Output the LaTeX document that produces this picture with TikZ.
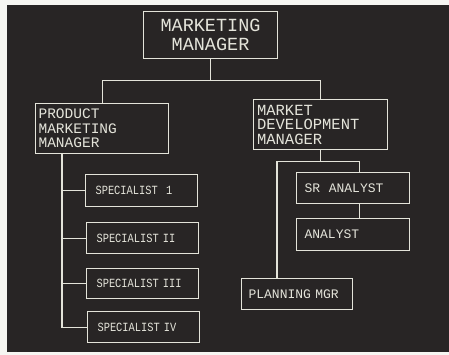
\documentclass[tikz,border=0pt]{standalone}
\usepackage{fontspec}
\newfontfamily\plotter{Liberation Mono}
\newfontfamily\plotnarrow[FakeStretch=0.83]{Liberation Mono}
\usetikzlibrary{positioning}
\definecolor{boardgrey}{RGB}{40,37,37}
\definecolor{chalk}{RGB}{228,228,218}
\definecolor{paper}{RGB}{246,246,242}

\tikzset{
  box/.style={draw=chalk, line width=1.1pt, text=chalk, anchor=north west, inner ysep=0pt},
  lbox/.style={box, align=left},
  link/.style={draw=chalk, line width=1.1pt},
}

\begin{document}
\begin{tikzpicture}[x=1pt, y=-1pt]
    \useasboundingbox (0,0) rectangle (449,355);
    \fill[paper] (0,0) rectangle (449,355);
    \fill[boardgrey] (7,5) rectangle (449,352);

    % top of the chart
    \node[box, align=center, minimum width=134pt, minimum height=47pt,
          font=\plotter\fontsize{18.5}{19}\selectfont] (mm) at (143,11) {MARKETING\\MANAGER};

    % the two managers
    \node[lbox, text width=127pt, inner xsep=3pt, minimum height=50pt,
          font=\plotter\fontsize{14.5}{14.5}\selectfont] (pmm) at (35,103) {PRODUCT\\MARKETING\\MANAGER};
    \node[lbox, text width=127pt, inner xsep=3.5pt, minimum height=50pt,
          font=\plotter\fontsize{15.5}{14.5}\selectfont] (mdm) at (253,99) {MARKET\\DEVELOPMENT\\MANAGER};

    % specialists
    \tikzset{spec/.style={lbox, text width=92pt, inner xsep=10pt,
             font=\plotnarrow\fontsize{12.5}{12.5}\selectfont}}
    \node[spec, minimum height=32pt] (s1) at (85,174) {SPECIALIST~~1};
    \node[spec, minimum height=31pt] (s2) at (86,222) {SPECIALIST II};
    \node[spec, minimum height=30pt] (s3) at (86,268) {SPECIALIST III};
    \node[spec, minimum height=31pt] (s4) at (87,311) {SPECIALIST IV};

    % analysts and planning
    \tikzset{staff/.style={lbox, text width=97pt, inner xsep=8pt,
             font=\plotter\fontsize{13}{13}\selectfont}}
    \node[staff, minimum height=31pt] (sra) at (296,172) {SR~~ANALYST};
    \node[staff, minimum height=32pt] (ana) at (296,218) {ANALYST};
    \node[staff, minimum height=31pt, inner xsep=7pt] (plan) at (241,278) {PLANNING MGR};

    % connectors
    \draw[link] (mm.south) -- ++(0,21) coordinate (j1);
    \draw[link] (pmm.north) |- (j1) -| (mdm.north);

    \coordinate (trunk) at ([xshift=27pt]pmm.south west);
    \draw[link] (trunk) |- (s4.west);
    \foreach \s in {s1,s2,s3}
      \draw[link] (trunk |- \s.west) -- (\s.west);

    \draw[link] (mdm.south) -- ++(0,11) coordinate (j2);
    \coordinate (sratop) at ([xshift=6pt]sra.north);
    \coordinate (plantop) at ([xshift=36pt]plan.north west);
    \draw[link] (sratop) |- (j2) -| (plantop);
    \draw[link] ([xshift=6pt]sra.south) -- ([xshift=6pt]ana.north);
\end{tikzpicture}
\end{document}
